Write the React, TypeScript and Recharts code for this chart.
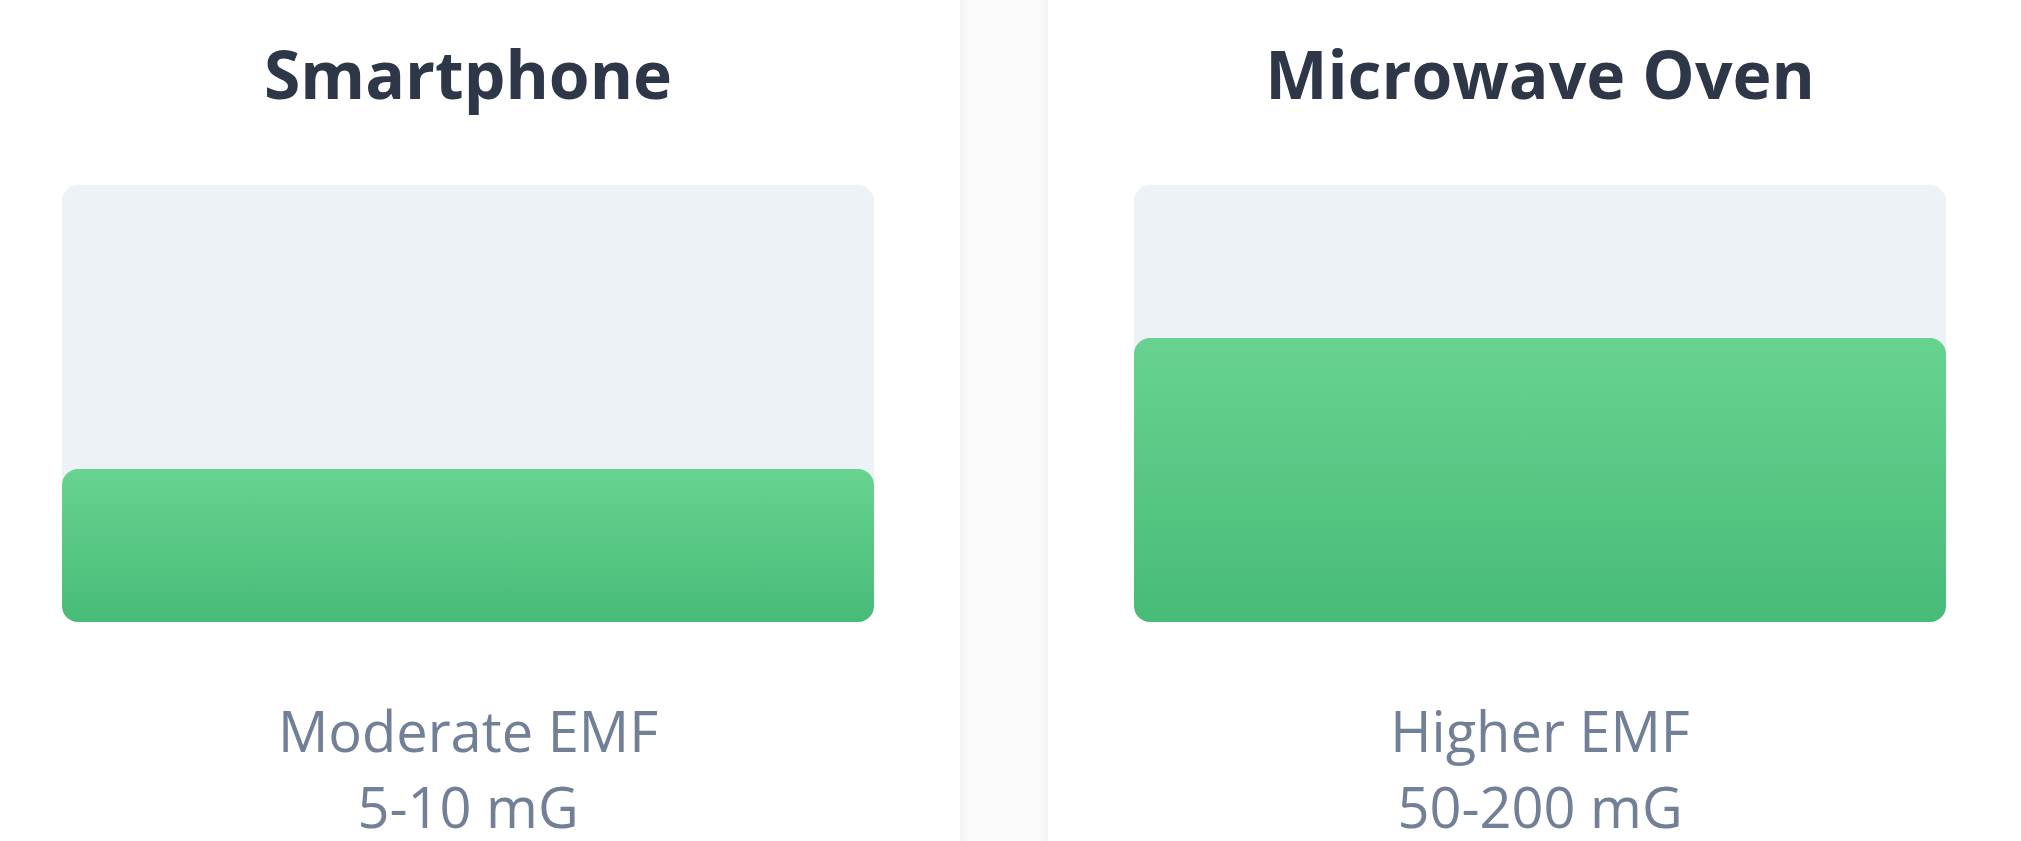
import { BarChart, Bar, XAxis, YAxis } from "recharts"

const devices = ["Smartphone", "Microwave Oven"]
const levels = [35, 65]
const labels = ["Moderate EMF", "Higher EMF"]
const ranges = ["5-10 mG", "50-200 mG"]

const cardLefts = [-24, 1048]

function DeviceCard({ index }: { index: number }) {
  const data = [{ name: devices[index], value: levels[index] }]
  const gradId = "emfGrad" + index

  return (
    <div
      style={{
        position: "absolute",
        left: cardLefts[index],
        top: -20,
        width: 984,
        height: 900,
        background: "#fff",
        boxShadow: "0 0 12px rgba(0,0,0,0.06)",
      }}
    >
      <div
        style={{
          position: "absolute",
          top: 60,
          left: 0,
          width: 984,
          textAlign: "center",
          fontSize: 66,
          lineHeight: 1,
          fontWeight: 700,
          color: "#2d3748",
        }}
      >
        {devices[index]}
      </div>

      <div style={{ position: "absolute", left: 86, top: 205 }}>
        <BarChart
          width={812}
          height={437}
          data={data}
          margin={{ top: 0, right: 0, bottom: 0, left: 0 }}
          barCategoryGap="0%"
        >
          <defs>
            <linearGradient id={gradId} x1="0" y1="0" x2="0" y2="1">
              <stop offset="0%" stopColor="#68d391" />
              <stop offset="100%" stopColor="#48bb78" />
            </linearGradient>
          </defs>
          <XAxis dataKey="name" hide />
          <YAxis domain={[0, 100]} hide />
          <Bar
            dataKey="value"
            fill={`url(#${gradId})`}
            radius={16}
            background={{ fill: "#edf2f7", radius: 16 }}
            isAnimationActive={false}
          />
        </BarChart>
      </div>

      <div
        style={{
          position: "absolute",
          top: 712,
          left: 0,
          width: 984,
          textAlign: "center",
          fontSize: 56,
          lineHeight: "76px",
          color: "#718096",
        }}
      >
        <div>{labels[index]}</div>
        <div>{ranges[index]}</div>
      </div>
    </div>
  )
}

export default function App() {
  return (
    <div
      style={{
        position: "fixed",
        left: 0,
        top: 0,
        width: 2021,
        height: 841,
        overflow: "hidden",
        background: "#fbfbfb",
        fontFamily: "'Open Sans', sans-serif",
      }}
    >
      {devices.map((d, i) => (
        <DeviceCard key={d} index={i} />
      ))}
    </div>
  )
}
